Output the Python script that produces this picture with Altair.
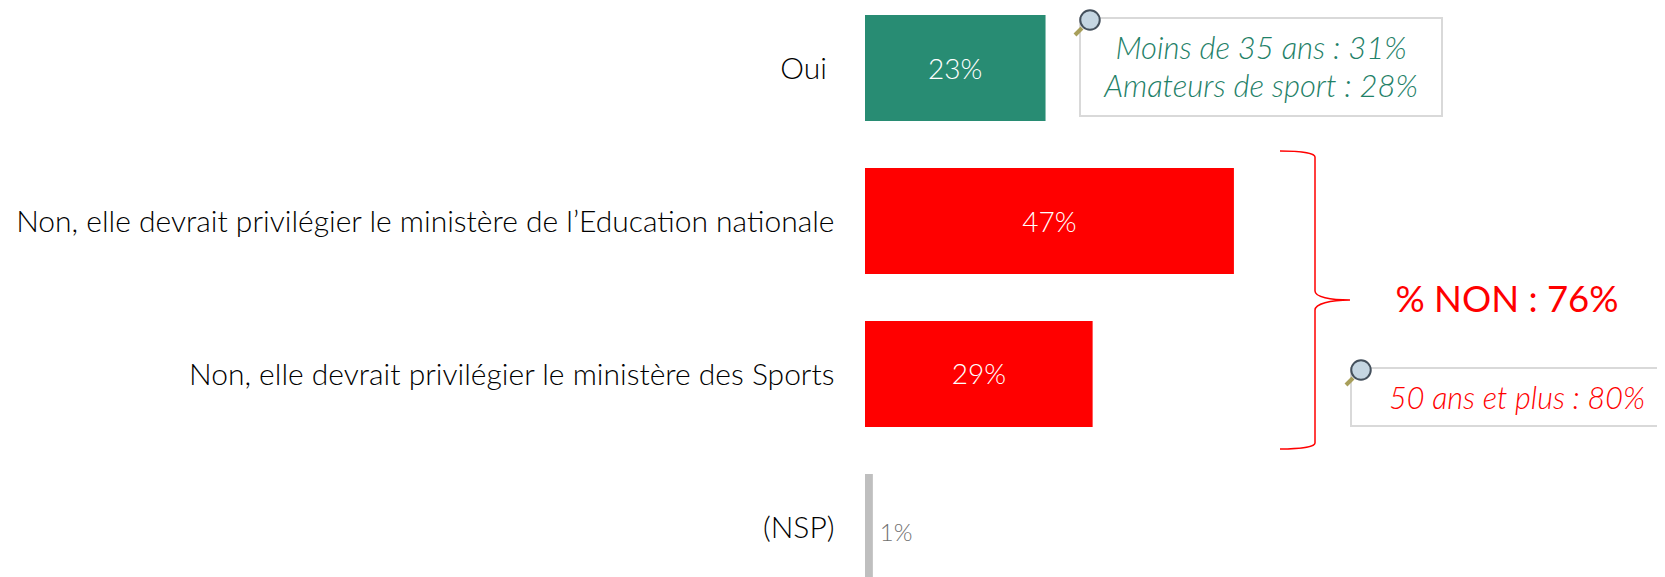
import altair as alt
import pandas as pd

categories = ["Oui", "Non, elle devrait privilégier le ministère de l’Education nationale",
              "Non, elle devrait privilégier le ministère des Sports", "(NSP)"]
values = [23, 47, 29, 1]
colors = ["#288C73", "#FF0000", "#FF0000", "#BFBFBF"]
bar_labels = ["23%", "47%", "29%", "1%"]

FONT = "Lato"
GREEN = "#1F8168"
RED = "#FF0000"
BOX = "#D9D9D9"

df = pd.DataFrame({"cat": categories, "val": values, "color": colors, "label": bar_labels})

x_scale = alt.Scale(domain=[0, 100.9], range=[0, 792], nice=False, zero=True)
y_scale = alt.Scale(domain=categories, range=[7, 572], paddingInner=0.307, paddingOuter=0)

bars = alt.Chart(df).mark_bar(cornerRadius=0).encode(
    x=alt.X("val:Q", scale=x_scale, axis=None),
    y=alt.Y("cat:N", scale=y_scale, sort=None, title=None,
            axis=alt.Axis(domain=False, ticks=False, grid=False, labelPadding=31, labelLimit=900,
                          labelExpr="datum.label == 'Oui' ? '' : datum.label",
                          labelOffset=2, labelFont=FONT, labelFontSize=30, labelFontWeight=300,
                          labelColor="#000000")),
    color=alt.Color("color:N", scale=None),
)

oui_label = alt.Chart(df[df.cat == "Oui"]).mark_text(
    font=FONT, fontSize=30, fontWeight=300, color="#000000", align="right", baseline="middle", dy=2
).encode(
    x=alt.value(-38),
    y=alt.Y("cat:N", scale=y_scale, sort=None, title=None),
    text="cat:N",
)

big = alt.Chart(df[df.val > 5]).transform_calculate(mid="datum.val / 2").mark_text(
    font=FONT, fontSize=28, fontWeight=300, color="white", align="center", baseline="middle", dy=2.5
).encode(
    x=alt.X("mid:Q", scale=x_scale, axis=None),
    y=alt.Y("cat:N", scale=y_scale, sort=None, title=None),
    text="label:N",
)

small = alt.Chart(df[df.val <= 5]).mark_text(
    font=FONT, fontSize=24, fontWeight=300, color="#707070", align="left", baseline="middle", dx=7, dy=7
).encode(
    x=alt.X("val:Q", scale=x_scale, axis=None),
    y=alt.Y("cat:N", scale=y_scale, sort=None, title=None),
    text="label:N",
)


def box(x, x2, y, y2):
    return alt.Chart(alt.Data(values=[{}])).mark_rect(fill="white", stroke=BOX, strokeWidth=2).encode(
        x=alt.value(x), x2=alt.value(x2), y=alt.value(y), y2=alt.value(y2))


def note(text, x, y, color, size, italic=True, weight=300):
    return alt.Chart(alt.Data(values=[{}])).mark_text(
        text=text, font=FONT, fontSize=size, fontStyle="italic" if italic else "normal",
        fontWeight=weight, color=color, align="center", baseline="middle"
    ).encode(x=alt.value(x), y=alt.value(y))


def loupe(cx, cy):
    handle = alt.Chart(alt.Data(values=[{}])).mark_rule(color="#A89F5A", strokeWidth=4).encode(
        x=alt.value(cx - 8), x2=alt.value(cx - 15), y=alt.value(cy + 8), y2=alt.value(cy + 15))
    lens = alt.Chart(alt.Data(values=[{}])).mark_point(
        shape="circle", size=380, filled=True, fill="#C5D6E2", stroke="#44505C", strokeWidth=2, opacity=1
    ).encode(x=alt.value(cx), y=alt.value(cy))
    return handle + lens


BRACE = ("M-35,-149 C-15,-149 0,-147 0,-143 L0,-9 C0,-3 15,0 35,0 "
         "C15,0 0,4 0,10 L0,143 C0,147 -15,149 -35,149")
brace = alt.Chart(alt.Data(values=[{}])).mark_point(
    shape=BRACE, size=4, filled=False, stroke=RED, strokeWidth=1.5, opacity=1
).encode(x=alt.value(1315 - 865), y=alt.value(300 - 8))

chart = alt.layer(
    bars, oui_label, big, small,
    box(1080 - 865, 1442 - 865, 18 - 8, 116 - 8),
    loupe(1090 - 865, 20 - 8),
    note("Moins de 35 ans : 31%", 1261 - 865, 50 - 8, GREEN, 31),
    note("Amateurs de sport : 28%", 1261 - 865, 88 - 8, GREEN, 31),
    brace,
    note("% NON : 76%", 1507 - 865, 301 - 8, RED, 36.5, italic=False, weight=400),
    box(1351 - 865, 1680 - 865, 368 - 8, 426 - 8),
    loupe(1361 - 865, 370 - 8),
    note("50 ans et plus : 80%", 1517 - 865, 400 - 8, RED, 30.5),
).properties(
    width=792, height=569, background="white",
    autosize=alt.AutoSizeParams(type="none"),
    padding={"left": 857, "top": 0, "right": 0, "bottom": 0},
).configure_view(stroke=None)

chart.save("out.html", embed_options={"renderer": "svg", "actions": False})
